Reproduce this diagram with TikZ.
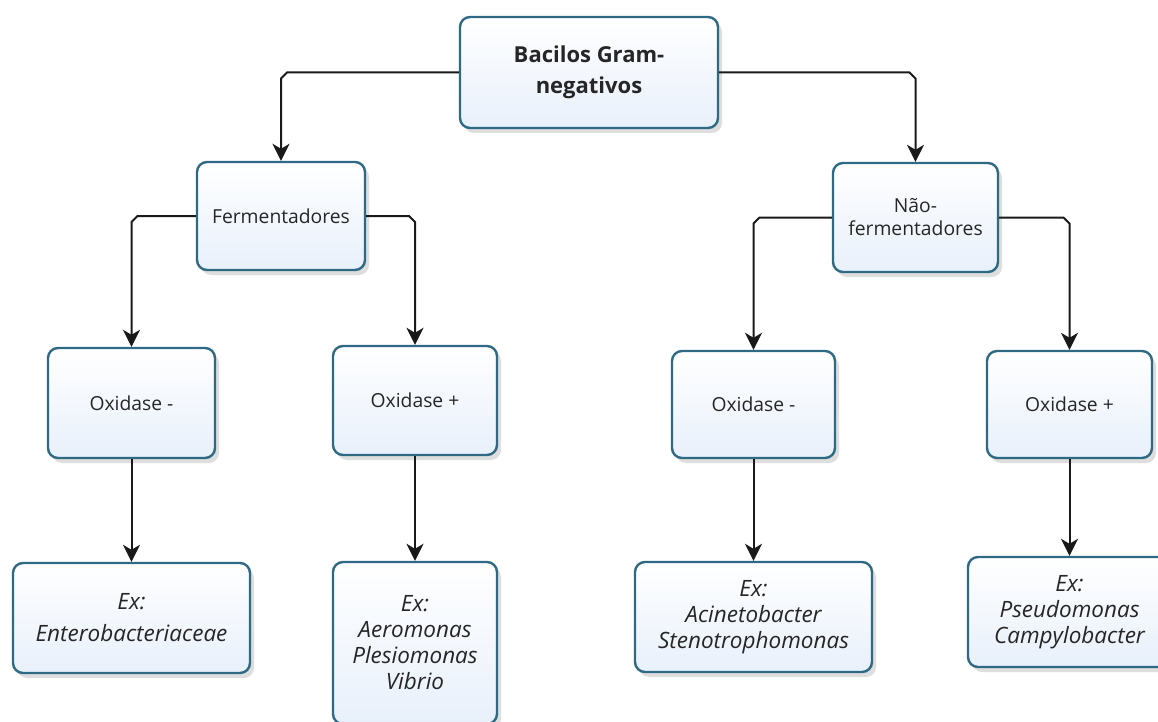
\documentclass[tikz,border=0pt]{standalone}
\usepackage{fontspec}
\setmainfont{Open Sans}
\usetikzlibrary{arrows.meta,shadows,calc}
\definecolor{bd}{RGB}{47,106,133}
\definecolor{fillb}{RGB}{232,240,251}
\tikzset{
  box/.style={rounded corners=10pt, draw=bd, line width=2.4pt,
    top color=white, bottom color=fillb, align=center, inner sep=0pt,
    drop shadow={shadow xshift=4pt, shadow yshift=-5pt, opacity=0.18, fill=black!70},
    font=\fontsize{19.3}{23}\selectfont, text=black!85},
  rootbox/.style={box, font=\fontsize{22}{31}\selectfont\bfseries},
  exbox/.style={box, font=\fontsize{22.5}{26}\selectfont\itshape},
  exwide/.style={exbox, font=\fontsize{22.5}{32}\selectfont\itshape},
  conn/.style={line width=2pt, draw=black!90, -{Stealth[length=17pt,width=17pt,inset=5pt]}}
}
\begin{document}
\begin{tikzpicture}[x=1pt,y=-1pt]
\useasboundingbox (0,0) rectangle (1158,722);
\fill[white] (0,0) rectangle (1158,722);
\clip (0,0) rectangle (1158,722);

\node[rootbox, minimum width=258pt, minimum height=111pt] (root) at (589,72.5) {Bacilos Gram-\\negativos};
\node[box, minimum width=168pt, minimum height=108pt] (ferm) at (281,216) {Fermentadores};
\node[box, minimum width=165pt, minimum height=109pt] (nferm) at (915.5,217.5) {Não-\\fermentadores};

\node[box, minimum width=167pt, minimum height=110pt] (ox1) at (131.5,403) {Oxidase -};
\node[box, minimum width=164pt, minimum height=109pt] (ox2) at (415,400.5) {Oxidase +};
\node[box, minimum width=163pt, minimum height=107pt] (ox3) at (753.5,404.5) {Oxidase -};
\node[box, minimum width=165pt, minimum height=107pt] (ox4) at (1069.5,404.5) {Oxidase +};

\node[exwide, minimum width=237pt, minimum height=110pt] (ex1) at (131.5,618) {Ex:\\Enterobacteriaceae};
\node[exbox, minimum width=164pt, minimum height=162pt] (ex2) at (415,643) {Ex:\\Aeromonas\\Plesiomonas\\Vibrio};
\node[exbox, minimum width=237pt, minimum height=110pt] (ex3) at (753.5,617) {Ex:\\Acinetobacter\\Stenotrophomonas};
\node[exbox, minimum width=203pt, minimum height=110pt] (ex4) at (1069.5,612) {Ex:\\Pseudomonas\\Campylobacter};

% tree connectors with small chamfered corners
\draw[conn] (root.west) -- ($(root.west -| ferm.north)+(6,0)$) -- ($(root.west -| ferm.north)+(0,6)$) -- (ferm.north);
\draw[conn] (root.east) -- ($(root.east -| nferm.north)+(-6,0)$) -- ($(root.east -| nferm.north)+(0,6)$) -- (nferm.north);
\draw[conn] (ferm.west) -- ($(ferm.west -| ox1.north)+(6,0)$) -- ($(ferm.west -| ox1.north)+(0,6)$) -- (ox1.north);
\draw[conn] (ferm.east) -- ($(ferm.east -| ox2.north)+(-6,0)$) -- ($(ferm.east -| ox2.north)+(0,6)$) -- (ox2.north);
\draw[conn] (nferm.west) -- ($(nferm.west -| ox3.north)+(6,0)$) -- ($(nferm.west -| ox3.north)+(0,6)$) -- (ox3.north);
\draw[conn] (nferm.east) -- ($(nferm.east -| ox4.north)+(-6,0)$) -- ($(nferm.east -| ox4.north)+(0,6)$) -- (ox4.north);

\draw[conn] (ox1.south) -- (ex1.north);
\draw[conn] (ox2.south) -- (ex2.north);
\draw[conn] (ox3.south) -- (ex3.north);
\draw[conn] (ox4.south) -- (ex4.north);
\end{tikzpicture}
\end{document}
